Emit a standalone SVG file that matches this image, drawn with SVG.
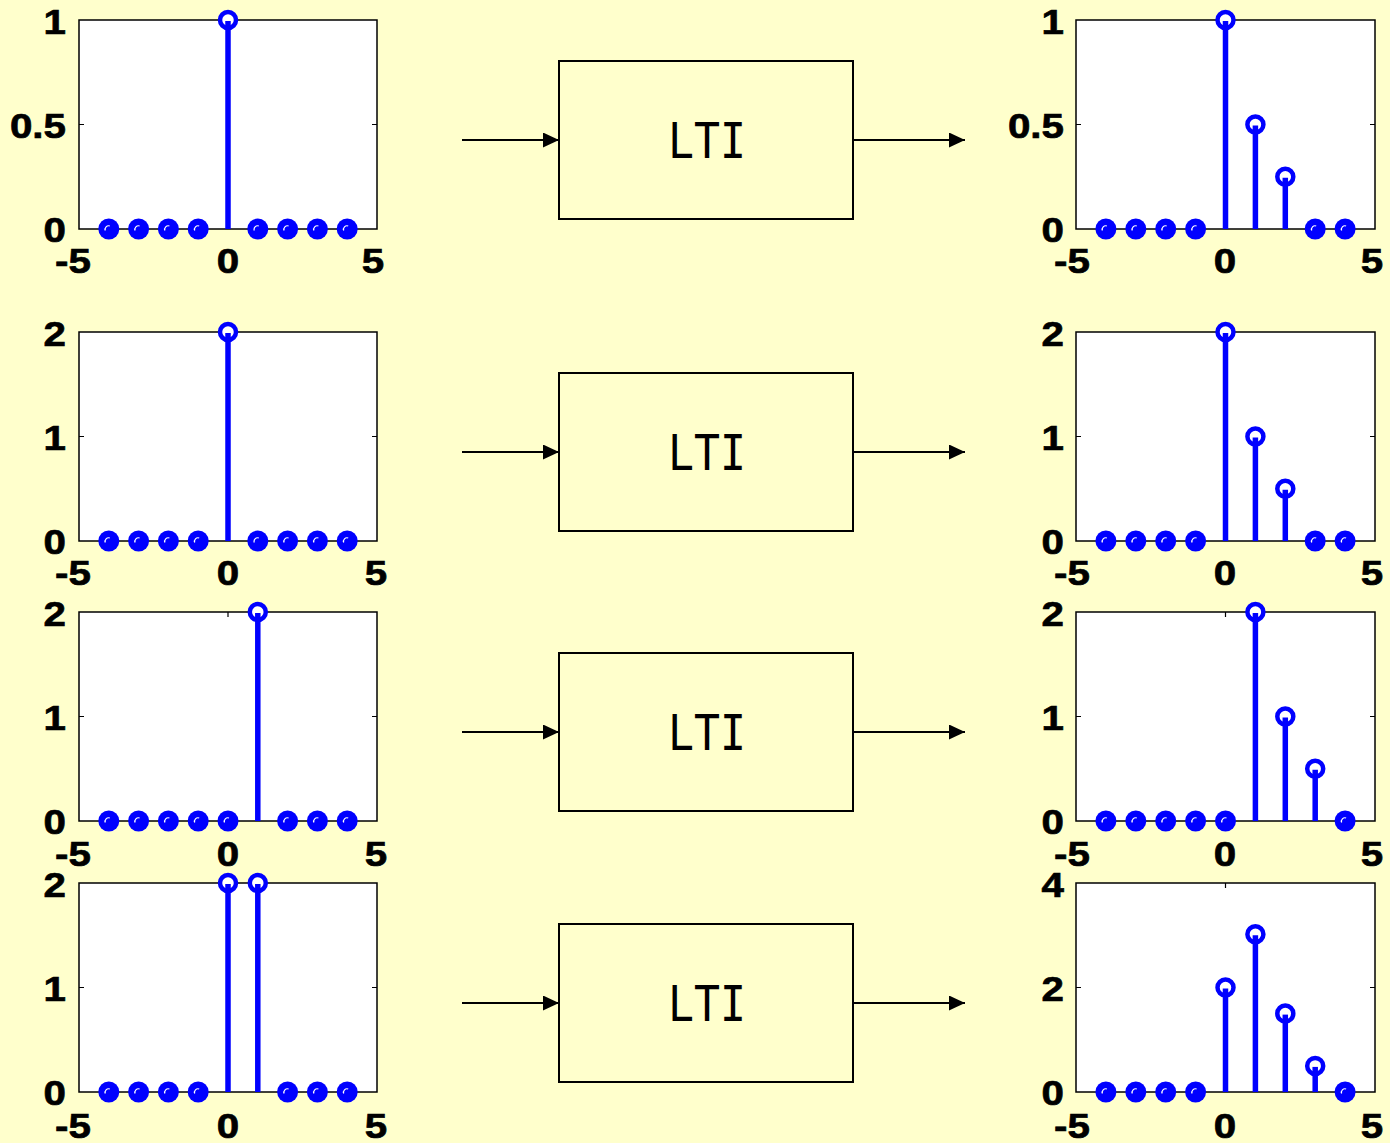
<svg xmlns="http://www.w3.org/2000/svg" xmlns:xlink="http://www.w3.org/1999/xlink" width="1390" height="1143" viewBox="0 0 1390 1143">
  <style>
    .frame { fill: #ffffff; stroke: #000000; stroke-width: 1.5; }
    .tick { stroke: #000000; stroke-width: 1.2; fill: none; }
    .stem { stroke: #0000ff; stroke-width: 5.5; }
    .lbl { font-family: "Liberation Sans", Arial, sans-serif; font-weight: bold; font-size: 36px; fill: #000000; stroke: #000000; stroke-width: 0.7; }
    .yl { text-anchor: end; }
    .xl { text-anchor: middle; }
    .box { fill: #ffffcc; stroke: #000000; stroke-width: 2; }
    .boxtxt { font-family: "DejaVu Sans Mono", monospace; font-size: 49px; fill: #000000; }
    .wire { stroke: #000000; stroke-width: 2; fill: none; marker-end: url(#arrow); }
  </style>
  <defs>
    <marker id="arrow" viewBox="0 0 16 15" refX="16" refY="7.5" markerWidth="16" markerHeight="15" markerUnits="userSpaceOnUse" orient="auto">
      <path d="M0,0 L16,7.5 L0,15 Z" fill="#000000"/>
    </marker>
    <!-- zero-valued sample: solid disc with a small highlight -->
    <g id="dot">
      <circle r="10.5" fill="#0000ff"/>
      <path d="M-3.5,1.5 A3.5,3.5 0 0 1 1,-3" stroke="#ffffff" stroke-width="1.2" fill="none"/>
    </g>
    <!-- non-zero sample head: open ring -->
    <circle id="ring" r="8" fill="#ffffff" stroke="#0000ff" stroke-width="4.5"/>
  </defs>

  <rect width="1390" height="1143" fill="#ffffcc"/>

  <!-- ===== Row 1 ===== -->
  <g id="input1">
    <rect class="frame" x="79" y="20" width="298" height="209"/>
    <path class="tick" d="M79,124.5h5M377,124.5h-5M228,229v-5M228,20v5"/>
    <text class="lbl yl" transform="translate(66,34) scale(1.12 1)">1</text>
    <text class="lbl yl" transform="translate(66,138) scale(1.12 1)">0.5</text>
    <text class="lbl yl" transform="translate(66,242) scale(1.12 1)">0</text>
    <text class="lbl xl" transform="translate(73,273) scale(1.12 1)">-5</text>
    <text class="lbl xl" transform="translate(228,273) scale(1.12 1)">0</text>
    <text class="lbl xl" transform="translate(373,273) scale(1.12 1)">5</text>
    <use xlink:href="#ring" x="228" y="20"/>
    <line class="stem" x1="228" y1="229" x2="228" y2="21"/>
    <use xlink:href="#dot" x="108.8" y="229"/><use xlink:href="#dot" x="138.6" y="229"/>
    <use xlink:href="#dot" x="168.4" y="229"/><use xlink:href="#dot" x="198.2" y="229"/>
    <use xlink:href="#dot" x="257.8" y="229"/><use xlink:href="#dot" x="287.6" y="229"/>
    <use xlink:href="#dot" x="317.4" y="229"/><use xlink:href="#dot" x="347.2" y="229"/>
  </g>
  <g id="lti1">
    <rect class="box" x="559" y="61" width="294" height="158"/>
    <text class="boxtxt" x="668" y="158" textLength="78" lengthAdjust="spacingAndGlyphs">LTI</text>
  </g>
  <g id="output1">
    <rect class="frame" x="1076" y="20" width="299" height="209"/>
    <path class="tick" d="M1076,124.5h5M1375,124.5h-5M1225.5,229v-5M1225.5,20v5"/>
    <text class="lbl yl" transform="translate(1064,34) scale(1.12 1)">1</text>
    <text class="lbl yl" transform="translate(1064,138) scale(1.12 1)">0.5</text>
    <text class="lbl yl" transform="translate(1064,242) scale(1.12 1)">0</text>
    <text class="lbl xl" transform="translate(1072,273) scale(1.12 1)">-5</text>
    <text class="lbl xl" transform="translate(1225,273) scale(1.12 1)">0</text>
    <text class="lbl xl" transform="translate(1372,273) scale(1.12 1)">5</text>
    <use xlink:href="#ring" x="1225.5" y="20"/>
    <use xlink:href="#ring" x="1255.4" y="124.5"/>
    <use xlink:href="#ring" x="1285.3" y="176.75"/>
    <line class="stem" x1="1225.5" y1="229" x2="1225.5" y2="21"/>
    <line class="stem" x1="1255.4" y1="229" x2="1255.4" y2="125.5"/>
    <line class="stem" x1="1285.3" y1="229" x2="1285.3" y2="177.75"/>
    <use xlink:href="#dot" x="1105.9" y="229"/><use xlink:href="#dot" x="1135.8" y="229"/>
    <use xlink:href="#dot" x="1165.7" y="229"/><use xlink:href="#dot" x="1195.6" y="229"/>
    <use xlink:href="#dot" x="1315.2" y="229"/><use xlink:href="#dot" x="1345.1" y="229"/>
  </g>

  <!-- ===== Row 2 ===== -->
  <g id="input2">
    <rect class="frame" x="79" y="332" width="298" height="209"/>
    <path class="tick" d="M79,436.5h5M377,436.5h-5M228,541v-5M228,332v5"/>
    <text class="lbl yl" transform="translate(66,346) scale(1.12 1)">2</text>
    <text class="lbl yl" transform="translate(66,450) scale(1.12 1)">1</text>
    <text class="lbl yl" transform="translate(66,554) scale(1.12 1)">0</text>
    <text class="lbl xl" transform="translate(73,585) scale(1.12 1)">-5</text>
    <text class="lbl xl" transform="translate(228,585) scale(1.12 1)">0</text>
    <text class="lbl xl" transform="translate(376,585) scale(1.12 1)">5</text>
    <use xlink:href="#ring" x="228" y="332"/>
    <line class="stem" x1="228" y1="541" x2="228" y2="333"/>
    <use xlink:href="#dot" x="108.8" y="541"/><use xlink:href="#dot" x="138.6" y="541"/>
    <use xlink:href="#dot" x="168.4" y="541"/><use xlink:href="#dot" x="198.2" y="541"/>
    <use xlink:href="#dot" x="257.8" y="541"/><use xlink:href="#dot" x="287.6" y="541"/>
    <use xlink:href="#dot" x="317.4" y="541"/><use xlink:href="#dot" x="347.2" y="541"/>
  </g>
  <g id="lti2">
    <rect class="box" x="559" y="373" width="294" height="158"/>
    <text class="boxtxt" x="668" y="470" textLength="78" lengthAdjust="spacingAndGlyphs">LTI</text>
  </g>
  <g id="output2">
    <rect class="frame" x="1076" y="332" width="299" height="209"/>
    <path class="tick" d="M1076,436.5h5M1375,436.5h-5M1225.5,541v-5M1225.5,332v5"/>
    <text class="lbl yl" transform="translate(1064,346) scale(1.12 1)">2</text>
    <text class="lbl yl" transform="translate(1064,450) scale(1.12 1)">1</text>
    <text class="lbl yl" transform="translate(1064,554) scale(1.12 1)">0</text>
    <text class="lbl xl" transform="translate(1072,585) scale(1.12 1)">-5</text>
    <text class="lbl xl" transform="translate(1225,585) scale(1.12 1)">0</text>
    <text class="lbl xl" transform="translate(1372,585) scale(1.12 1)">5</text>
    <use xlink:href="#ring" x="1225.5" y="332"/>
    <use xlink:href="#ring" x="1255.4" y="436.5"/>
    <use xlink:href="#ring" x="1285.3" y="488.75"/>
    <line class="stem" x1="1225.5" y1="541" x2="1225.5" y2="333"/>
    <line class="stem" x1="1255.4" y1="541" x2="1255.4" y2="437.5"/>
    <line class="stem" x1="1285.3" y1="541" x2="1285.3" y2="489.75"/>
    <use xlink:href="#dot" x="1105.9" y="541"/><use xlink:href="#dot" x="1135.8" y="541"/>
    <use xlink:href="#dot" x="1165.7" y="541"/><use xlink:href="#dot" x="1195.6" y="541"/>
    <use xlink:href="#dot" x="1315.2" y="541"/><use xlink:href="#dot" x="1345.1" y="541"/>
  </g>

  <!-- ===== Row 3 ===== -->
  <g id="input3">
    <rect class="frame" x="79" y="612" width="298" height="209"/>
    <path class="tick" d="M79,716.5h5M377,716.5h-5M228,821v-5M228,612v5"/>
    <text class="lbl yl" transform="translate(66,626) scale(1.12 1)">2</text>
    <text class="lbl yl" transform="translate(66,730) scale(1.12 1)">1</text>
    <text class="lbl yl" transform="translate(66,834) scale(1.12 1)">0</text>
    <text class="lbl xl" transform="translate(73,866) scale(1.12 1)">-5</text>
    <text class="lbl xl" transform="translate(228,866) scale(1.12 1)">0</text>
    <text class="lbl xl" transform="translate(376,866) scale(1.12 1)">5</text>
    <use xlink:href="#ring" x="257.8" y="612"/>
    <line class="stem" x1="257.8" y1="821" x2="257.8" y2="613"/>
    <use xlink:href="#dot" x="108.8" y="821"/><use xlink:href="#dot" x="138.6" y="821"/>
    <use xlink:href="#dot" x="168.4" y="821"/><use xlink:href="#dot" x="198.2" y="821"/>
    <use xlink:href="#dot" x="228" y="821"/><use xlink:href="#dot" x="287.6" y="821"/>
    <use xlink:href="#dot" x="317.4" y="821"/><use xlink:href="#dot" x="347.2" y="821"/>
  </g>
  <g id="lti3">
    <rect class="box" x="559" y="653" width="294" height="158"/>
    <text class="boxtxt" x="668" y="750" textLength="78" lengthAdjust="spacingAndGlyphs">LTI</text>
  </g>
  <g id="output3">
    <rect class="frame" x="1076" y="612" width="299" height="209"/>
    <path class="tick" d="M1076,716.5h5M1375,716.5h-5M1225.5,821v-5M1225.5,612v5"/>
    <text class="lbl yl" transform="translate(1064,626) scale(1.12 1)">2</text>
    <text class="lbl yl" transform="translate(1064,730) scale(1.12 1)">1</text>
    <text class="lbl yl" transform="translate(1064,834) scale(1.12 1)">0</text>
    <text class="lbl xl" transform="translate(1072,866) scale(1.12 1)">-5</text>
    <text class="lbl xl" transform="translate(1225,866) scale(1.12 1)">0</text>
    <text class="lbl xl" transform="translate(1372,866) scale(1.12 1)">5</text>
    <use xlink:href="#ring" x="1255.4" y="612"/>
    <use xlink:href="#ring" x="1285.3" y="716.5"/>
    <use xlink:href="#ring" x="1315.2" y="768.75"/>
    <line class="stem" x1="1255.4" y1="821" x2="1255.4" y2="613"/>
    <line class="stem" x1="1285.3" y1="821" x2="1285.3" y2="717.5"/>
    <line class="stem" x1="1315.2" y1="821" x2="1315.2" y2="769.75"/>
    <use xlink:href="#dot" x="1105.9" y="821"/><use xlink:href="#dot" x="1135.8" y="821"/>
    <use xlink:href="#dot" x="1165.7" y="821"/><use xlink:href="#dot" x="1195.6" y="821"/>
    <use xlink:href="#dot" x="1225.5" y="821"/><use xlink:href="#dot" x="1345.1" y="821"/>
  </g>

  <!-- ===== Row 4 ===== -->
  <g id="input4">
    <rect class="frame" x="79" y="883" width="298" height="209"/>
    <path class="tick" d="M79,987.5h5M377,987.5h-5M228,1092v-5M228,883v5"/>
    <text class="lbl yl" transform="translate(66,897) scale(1.12 1)">2</text>
    <text class="lbl yl" transform="translate(66,1001) scale(1.12 1)">1</text>
    <text class="lbl yl" transform="translate(66,1105) scale(1.12 1)">0</text>
    <text class="lbl xl" transform="translate(73,1138) scale(1.12 1)">-5</text>
    <text class="lbl xl" transform="translate(228,1138) scale(1.12 1)">0</text>
    <text class="lbl xl" transform="translate(376,1138) scale(1.12 1)">5</text>
    <use xlink:href="#ring" x="228" y="883"/>
    <use xlink:href="#ring" x="257.8" y="883"/>
    <line class="stem" x1="228" y1="1092" x2="228" y2="884"/>
    <line class="stem" x1="257.8" y1="1092" x2="257.8" y2="884"/>
    <use xlink:href="#dot" x="108.8" y="1092"/><use xlink:href="#dot" x="138.6" y="1092"/>
    <use xlink:href="#dot" x="168.4" y="1092"/><use xlink:href="#dot" x="198.2" y="1092"/>
    <use xlink:href="#dot" x="287.6" y="1092"/>
    <use xlink:href="#dot" x="317.4" y="1092"/><use xlink:href="#dot" x="347.2" y="1092"/>
  </g>
  <g id="lti4">
    <rect class="box" x="559" y="924" width="294" height="158"/>
    <text class="boxtxt" x="668" y="1021" textLength="78" lengthAdjust="spacingAndGlyphs">LTI</text>
  </g>
  <g id="output4">
    <rect class="frame" x="1076" y="883" width="299" height="209"/>
    <path class="tick" d="M1076,987.5h5M1375,987.5h-5M1225.5,1092v-5M1225.5,883v5"/>
    <text class="lbl yl" transform="translate(1064,897) scale(1.12 1)">4</text>
    <text class="lbl yl" transform="translate(1064,1001) scale(1.12 1)">2</text>
    <text class="lbl yl" transform="translate(1064,1105) scale(1.12 1)">0</text>
    <text class="lbl xl" transform="translate(1072,1138) scale(1.12 1)">-5</text>
    <text class="lbl xl" transform="translate(1225,1138) scale(1.12 1)">0</text>
    <text class="lbl xl" transform="translate(1372,1138) scale(1.12 1)">5</text>
    <use xlink:href="#ring" x="1225.5" y="987.5"/>
    <use xlink:href="#ring" x="1255.4" y="934.25"/>
    <use xlink:href="#ring" x="1285.3" y="1013.6"/>
    <use xlink:href="#ring" x="1315.2" y="1065.9"/>
    <line class="stem" x1="1225.5" y1="1092" x2="1225.5" y2="988.5"/>
    <line class="stem" x1="1255.4" y1="1092" x2="1255.4" y2="935.25"/>
    <line class="stem" x1="1285.3" y1="1092" x2="1285.3" y2="1014.6"/>
    <line class="stem" x1="1315.2" y1="1092" x2="1315.2" y2="1066.9"/>
    <use xlink:href="#dot" x="1105.9" y="1092"/><use xlink:href="#dot" x="1135.8" y="1092"/>
    <use xlink:href="#dot" x="1165.7" y="1092"/><use xlink:href="#dot" x="1195.6" y="1092"/>
    <use xlink:href="#dot" x="1345.1" y="1092"/>
  </g>

  <!-- signal flow arrows -->
  <g id="connectors">
    <line class="wire" x1="462" y1="140" x2="559" y2="140"/>
    <line class="wire" x1="853" y1="140" x2="965" y2="140"/>
    <line class="wire" x1="462" y1="452" x2="559" y2="452"/>
    <line class="wire" x1="853" y1="452" x2="965" y2="452"/>
    <line class="wire" x1="462" y1="732" x2="559" y2="732"/>
    <line class="wire" x1="853" y1="732" x2="965" y2="732"/>
    <line class="wire" x1="462" y1="1003" x2="559" y2="1003"/>
    <line class="wire" x1="853" y1="1003" x2="965" y2="1003"/>
  </g>
</svg>
